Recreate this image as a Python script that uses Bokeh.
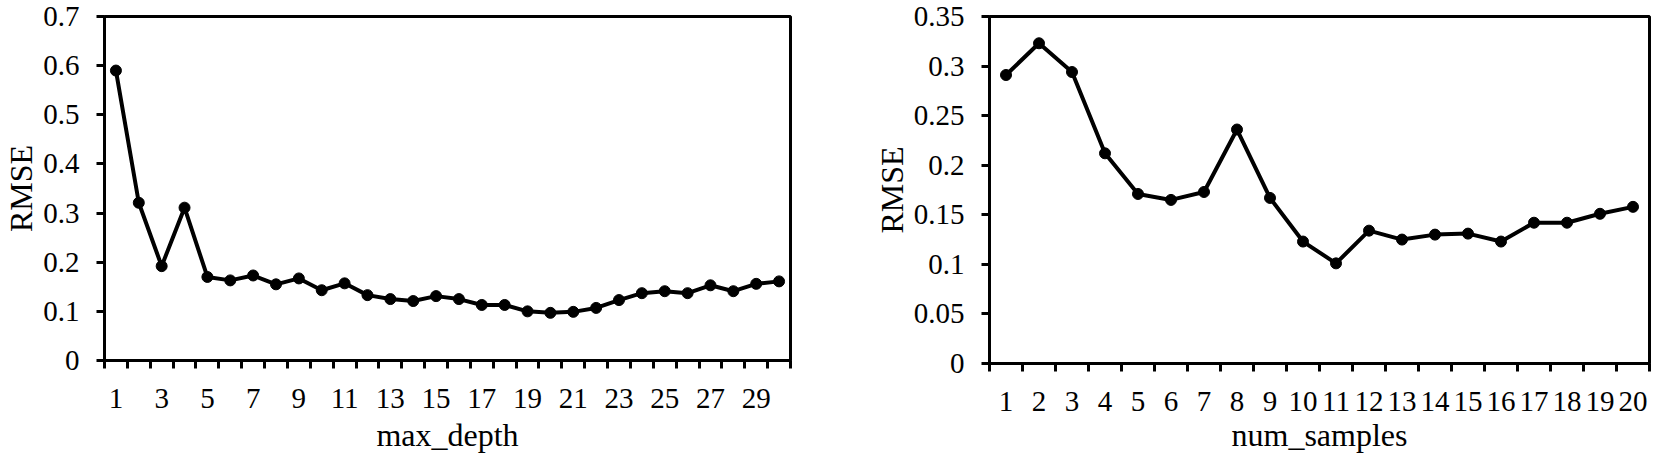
from bokeh.plotting import figure
from bokeh.layouts import row
from bokeh.models import Range1d, FixedTicker, NumeralTickFormatter
from bokeh.embed import file_html
from bokeh.resources import INLINE

# ---- data ----
depth_x = list(range(1, 31))
depth_rmse = [0.590, 0.321, 0.192, 0.311, 0.170, 0.163, 0.173, 0.155, 0.167, 0.143,
              0.157, 0.133, 0.125, 0.121, 0.131, 0.125, 0.113, 0.113, 0.100, 0.097,
              0.099, 0.107, 0.123, 0.137, 0.141, 0.137, 0.153, 0.141, 0.156, 0.161]
depth_tick_labels = list(range(1, 31, 2))
depth_yticks = [0, 0.1, 0.2, 0.3, 0.4, 0.5, 0.6, 0.7]

samples_x = list(range(1, 21))
samples_rmse = [0.291, 0.323, 0.294, 0.212, 0.171, 0.165, 0.173, 0.236, 0.167, 0.123,
                0.101, 0.134, 0.125, 0.130, 0.131, 0.123, 0.142, 0.142, 0.151, 0.158]
samples_tick_labels = list(range(1, 21))
samples_yticks = [0, 0.05, 0.1, 0.15, 0.2, 0.25, 0.3, 0.35]

FONT = "Liberation Serif"


def make_fig(xs, ys, xlabels, yticks, ymax, xlabel, fw, fh, mbl, mbr, mbt, mbb, xls):
    n = len(xs)
    p = figure(frame_width=fw, frame_height=fh,
               x_range=Range1d(0.5, n + 0.5), y_range=Range1d(0, ymax),
               output_backend="svg", toolbar_location=None,
               min_border_left=mbl, min_border_right=mbr,
               min_border_top=mbt, min_border_bottom=mbb)
    p.xgrid.visible = False
    p.ygrid.visible = False
    p.outline_line_color = "black"
    p.outline_line_width = 3
    p.outline_line_alpha = 1
    p.background_fill_color = "white"
    p.border_fill_color = "white"

    p.line(xs, ys, line_color="black", line_width=4)
    p.scatter(xs, ys, size=11, fill_color="black", line_color="black")

    # x axis: labels at category centers, tick marks at category boundaries
    xa = p.xaxis[0]
    xa.ticker = FixedTicker(ticks=xlabels, minor_ticks=[i + 0.5 for i in range(0, n + 1)])
    xa.major_tick_out = 0
    xa.major_tick_in = 0
    xa.minor_tick_out = 8
    xa.minor_tick_in = 0
    xa.minor_tick_line_width = 3
    xa.minor_tick_line_color = "black"
    xa.axis_line_width = 3
    xa.axis_line_color = "black"
    xa.major_label_standoff = 20
    xa.major_label_text_font = FONT
    xa.major_label_text_font_size = "29px"
    xa.major_label_text_color = "black"
    xa.axis_label = xlabel
    xa.axis_label_text_font = FONT
    xa.axis_label_text_font_size = "32px"
    xa.axis_label_text_font_style = "normal"
    xa.axis_label_text_color = "black"
    xa.axis_label_standoff = xls

    ya = p.yaxis[0]
    ya.ticker = FixedTicker(ticks=yticks)
    ya.formatter = NumeralTickFormatter(format="0.[00]")
    ya.major_tick_out = 8
    ya.major_tick_in = 0
    ya.major_tick_line_width = 3
    ya.major_tick_line_color = "black"
    ya.minor_tick_line_color = None
    ya.axis_line_width = 3
    ya.axis_line_color = "black"
    ya.major_label_standoff = 17
    ya.major_label_text_font = FONT
    ya.major_label_text_font_size = "29px"
    ya.major_label_text_color = "black"
    ya.axis_label = "RMSE"
    ya.axis_label_text_font = FONT
    ya.axis_label_text_font_size = "32px"
    ya.axis_label_text_font_style = "normal"
    ya.axis_label_text_color = "black"
    ya.axis_label_standoff = 1
    return p


p1 = make_fig(depth_x, depth_rmse, depth_tick_labels, depth_yticks, 0.7, "max_depth",
              fw=686, fh=344, mbl=99, mbr=80, mbt=16, mbb=96, xls=6)
p2 = make_fig(samples_x, samples_rmse, samples_tick_labels, samples_yticks, 0.35, "num_samples",
              fw=660, fh=347, mbl=112, mbr=2, mbt=16, mbb=93, xls=3)

layout = row(p1, p2)
open("out.html", "w").write(file_html(layout, INLINE))
